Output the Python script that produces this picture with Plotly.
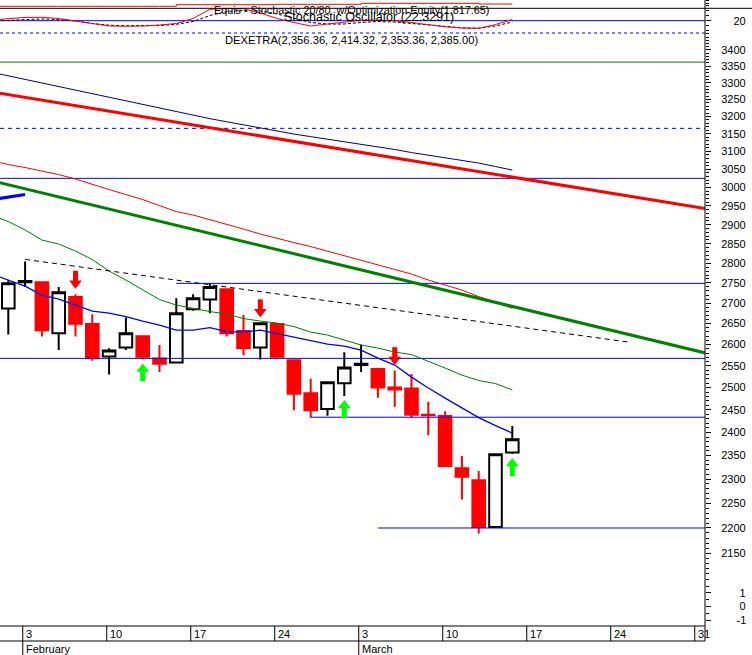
import numpy as np
import plotly.graph_objects as go

# ---------------- data ----------------
trade_dates = ["Jan 31", "Feb 3", "Feb 4", "Feb 5", "Feb 6", "Feb 7", "Feb 10", "Feb 11",
               "Feb 12", "Feb 13", "Feb 14", "Feb 17", "Feb 18", "Feb 19", "Feb 20", "Feb 21",
               "Feb 24", "Feb 25", "Feb 26", "Feb 27", "Feb 28", "Mar 3", "Mar 4", "Mar 5",
               "Mar 6", "Mar 7", "Mar 10", "Mar 11", "Mar 12", "Mar 13", "Mar 14"]
candle_idx = list(range(len(trade_dates)))

opens = [2687, 2752, 2752, 2627, 2715, 2649, 2572, 2593, 2620, 2567, 2558, 2685, 2709, 2734, 2632, 2593,
         2649, 2563, 2487, 2452, 2510, 2552, 2543, 2500, 2498, 2439, 2436, 2323, 2298, 2202, 2356.36]
highs = [2757, 2804, 2753, 2740, 2722, 2673, 2591, 2665, 2621, 2599, 2712, 2722, 2750, 2736, 2671, 2652,
         2651, 2565, 2520, 2513, 2582, 2600, 2544, 2539, 2531, 2468, 2447, 2349, 2317, 2354, 2414.32]
lows = [2624, 2740, 2619, 2587, 2619, 2562, 2530, 2587, 2565, 2536, 2557, 2681, 2675, 2619, 2575, 2565,
        2570, 2449, 2433, 2437, 2481, 2536, 2477, 2457, 2433, 2394, 2327, 2258, 2189, 2201, 2353.36]
closes = [2749, 2755, 2634, 2727, 2650, 2568, 2586, 2627, 2571, 2555, 2675, 2712, 2740, 2627, 2592, 2651,
          2571, 2486, 2449, 2512, 2546, 2555, 2500, 2496, 2439, 2438, 2328, 2305, 2202, 2353, 2385.00]

# indicator lines (index -1 .. 30)
ind_idx = list(range(-1, 31))
ma_fast = [2772.4, 2757.3, 2742.2, 2719.9, 2710.0, 2695.2, 2680.5, 2675.6, 2667.1, 2656.2, 2646.5,
           2634.5, 2634.5, 2640.5, 2630.9, 2629.7, 2634.5, 2626.1, 2617.8, 2608.3, 2601.2, 2596.5,
           2587.0, 2568.2, 2551.9, 2524.1, 2499.0, 2476.3, 2453.9, 2432.7, 2415.1, 2398.6]
ma_mid = [2925.5, 2908.2, 2886.0, 2859.6, 2849.2, 2831.1, 2809.2, 2780.0, 2757.3, 2732.3, 2708.7,
          2695.2, 2686.6, 2679.3, 2673.2, 2662.3, 2656.2, 2651.4, 2642.9, 2629.7, 2622.6, 2610.7,
          2598.8, 2591.7, 2582.3, 2576.4, 2561.2, 2544.9, 2528.7, 2516.1, 2509.3, 2494.7]
ma_slow = [3074.3, 3063.1, 3054.8, 3045.0, 3035.3, 3023.0, 3007.8, 2994.2, 2980.6, 2967.0, 2950.8,
           2934.8, 2925.5, 2913.5, 2901.6, 2888.4, 2875.3, 2863.5, 2853.1, 2842.7, 2831.1, 2819.5,
           2808.0, 2796.5, 2783.8, 2772.4, 2757.3, 2744.7, 2732.3, 2716.1, 2702.6, 2687.1]
ma_long = [3331.7, 3320.8, 3310.0, 3299.4, 3288.6, 3277.9, 3267.1, 3256.4, 3245.8, 3235.2, 3224.6,
           3214.3, 3203.8, 3193.9, 3184.9, 3175.6, 3166.7, 3157.4, 3149.4, 3142.0, 3134.8, 3127.7,
           3120.6, 3113.5, 3105.5, 3096.8, 3089.7, 3082.4, 3075.4, 3067.3, 3057.5, 3047.8]

# trend lines (two end points each)
red_trend_x, red_trend_y = [-1, 42], [3272.5, 2938.8]
green_trend_x, green_trend_y = [-1, 42], [3018.4, 2575.3]
blue_seg_x, blue_seg_y = [-1, 1], [2966.6, 2981.0]
dash_trend_x, dash_trend_y = [1, 37], [2809.7, 2605.4]

# horizontal levels
level_prices = [3362.8, 3165.8, 3024.9, 2749.0, 2567.5, 2433.5, 2200.0]
level_starts = [-1, -1, -1, 10, -1, 18, 22]
level_colors = ["#008000", "#0000FF", "#0000FF", "#0000FF", "#0000FF", "#0000FF", "#0000FF"]
level_dashes = ["solid", "4px,4px", "solid", "solid", "solid", "solid", "solid"]

# signal arrows
sell_idx = [4, 15, 23]
buy_idx = [8, 20, 30]

# stochastic panel (index -1 .. 30)
stoch_k = [20.4, 24.2, 26.4, 26.8, 24.4, 19.8, 14.2, 9.4, 9.0, 9.4, 11.4, 14.4, 24.4, 42.8, 44.4, 43.8,
           35.4, 24.4, 16.4, 9.4, 13.4, 17.4, 20.8, 21.0, 20.0, 16.4, 12.4, 7.8, 5.4, 4.8, 12.4, 22.3]
stoch_d = [19.4, 21.0, 23.0, 23.4, 22.4, 19.4, 14.4, 11.0, 9.8, 9.4, 10.4, 12.8, 18.4, 30.4, 38.4, 40.4,
           39.4, 33.4, 25.4, 16.4, 13.4, 13.4, 16.4, 18.4, 17.4, 14.4, 11.4, 8.4, 5.8, 5.0, 9.4, 17.4]
equity = [48.8, 48.8, 48.8, 48.8, 48.8, 48.8, 48.8, 48.8, 48.8, 48.8, 48.8, 52.0, 52.0, 52.0, 52.0, 52.0,
          52.0, 52.8, 52.8, 52.8, 52.8, 52.8, 54.8, 54.8, 54.8, 54.8, 54.8, 54.8, 54.8, 53.4, 53.4, 53.4]
stoch_level = 20

# x axis labels
monday_idx = [1, 6, 11, 16, 21, 26, 31, 36, 41]
monday_lbl = ["3", "10", "17", "24", "3", "10", "17", "24", "31"]
month_idx = [1, 21]
month_lbl = ["February", "March"]
price_ticks = list(range(2150, 3401, 50))

# ---------------- geometry helpers ----------------
PLOT_W, PLOT_H = 705, 626
def fx(px):
    return px / PLOT_W
def fy(py):
    return 1 - py / PLOT_H

FONT = "Liberation Sans, Arial, sans-serif"
X0, X1 = -0.494, 41.47
TICK_OFF = -0.14
Y_LO, Y_HI = 2107.8, 3453.0
P_TOP, P_BOT = 33, 575
ln_per_px = (np.log(Y_HI) - np.log(Y_LO)) / (P_BOT - P_TOP)
def shift(price, px_up):
    return price * np.exp(px_up * ln_per_px)

S_TOP, S_BOT = 0, 33
S_LO, S_HI = -4.6, 61.4
B_LO, B_HI = -1.44, 2.31

fig = go.Figure()

def line(x, y, color, width, dash="solid", shape="linear"):
    fig.add_trace(go.Scatter(x=x, y=y, mode="lines", line=dict(color=color, width=width, dash=dash, shape=shape),
                             xaxis="x", yaxis="y2", hoverinfo="skip", showlegend=False))

for p, s, c, d in zip(level_prices, level_starts, level_colors, level_dashes):
    line([max(s, X0), X1], [p, p], c, 1, d)

line(ind_idx, ma_long, "#000080", 1)
line(red_trend_x, red_trend_y, "#FF0000", 3)
line(ind_idx, ma_slow, "#FF0000", 1)
line(green_trend_x, green_trend_y, "#008000", 3)
line(ind_idx, ma_mid, "#008000", 1)
line(blue_seg_x, blue_seg_y, "#0000FF", 3)
line(dash_trend_x, dash_trend_y, "#000000", 1, "5px,4px")
line(ind_idx, ma_fast, "#0000FF", 1.3)

fig.add_trace(go.Candlestick(
    x=candle_idx, open=opens, high=highs, low=lows, close=closes,
    increasing=dict(line=dict(color="#000000", width=2), fillcolor="#FFFFFF"),
    decreasing=dict(line=dict(color="#FF0000", width=2), fillcolor="#FF0000"),
    whiskerwidth=0, xaxis="x", yaxis="y2", showlegend=False, hoverinfo="skip"))

# arrows
HEAD = 11
fig.add_trace(go.Scatter(x=sell_idx, y=[shift(highs[i], 17.5) for i in sell_idx], mode="markers",
                         marker=dict(symbol="line-ns", size=8.5, line=dict(color="#FF0000", width=5)),
                         xaxis="x", yaxis="y2", showlegend=False, hoverinfo="skip"))
fig.add_trace(go.Scatter(x=sell_idx, y=[shift(highs[i], 5.5 + HEAD / 2) for i in sell_idx], mode="markers",
                         marker=dict(symbol="triangle-down", size=HEAD, color="#FF0000", line=dict(width=0)),
                         xaxis="x", yaxis="y2", showlegend=False, hoverinfo="skip"))
fig.add_trace(go.Scatter(x=buy_idx, y=[shift(lows[i], -16.0) for i in buy_idx], mode="markers",
                         marker=dict(symbol="line-ns", size=8.5, line=dict(color="#00FF00", width=5)),
                         xaxis="x", yaxis="y2", showlegend=False, hoverinfo="skip"))
fig.add_trace(go.Scatter(x=buy_idx, y=[shift(lows[i], -(4 + HEAD / 2)) for i in buy_idx], mode="markers",
                         marker=dict(symbol="triangle-up", size=HEAD, color="#00FF00", line=dict(width=0)),
                         xaxis="x", yaxis="y2", showlegend=False, hoverinfo="skip"))

# stochastic panel
fig.add_trace(go.Scatter(x=[X0, X1], y=[stoch_level, stoch_level], mode="lines", line=dict(color="#0000FF", width=1),
                         xaxis="x", yaxis="y", showlegend=False, hoverinfo="skip"))
fig.add_trace(go.Scatter(x=ind_idx, y=equity, mode="lines", line=dict(color="#FF0000", width=1, shape="hv"),
                         xaxis="x", yaxis="y", showlegend=False, hoverinfo="skip"))
fig.add_trace(go.Scatter(x=ind_idx, y=stoch_d, mode="lines", line=dict(color="#000000", width=1, dash="3px,2px"),
                         xaxis="x", yaxis="y", showlegend=False, hoverinfo="skip"))
fig.add_trace(go.Scatter(x=ind_idx, y=stoch_k, mode="lines", line=dict(color="#FF0000", width=1),
                         xaxis="x", yaxis="y", showlegend=False, hoverinfo="skip"))

# empty lower indicator panel (keeps its axis alive)
fig.add_trace(go.Scatter(x=[None], y=[None], mode="lines", xaxis="x", yaxis="y3",
                         showlegend=False, hoverinfo="skip"))

NB = "\u00a0"
tickfont = dict(family="Liberation Sans, Arial, sans-serif", size=11, color="black")
lblfont = dict(family=FONT, size=11, color="black")

annotations = []
for m, t in zip(monday_idx, monday_lbl):
    annotations.append(dict(x=m + TICK_OFF, y=fy(633.5), xref="x", yref="paper", text=t, showarrow=False,
                            xanchor="left", yanchor="middle", xshift=1, font=lblfont))
for m, t in zip(month_idx, month_lbl):
    annotations.append(dict(x=m + TICK_OFF, y=fy(648.5), xref="x", yref="paper", text=t, showarrow=False,
                            xanchor="left", yanchor="middle", xshift=1, font=lblfont))
annotations += [
    dict(x=fx(351.5), y=fy(10), xref="paper", yref="paper", showarrow=False, xanchor="center", yanchor="middle",
         text="Equis - Stochastic 20/80  w/Optimization Equity(1,817.65)", font=dict(family=FONT, size=10.8, color="black")),
    dict(x=fx(369), y=fy(17), xref="paper", yref="paper", showarrow=False, xanchor="center", yanchor="middle",
         text="Stochastic Oscillator (22.3291)", font=dict(family=FONT, size=12.5, color="black")),
    dict(x=fx(351.5), y=fy(40), xref="paper", yref="paper", showarrow=False, xanchor="center", yanchor="middle",
         text="DEXETRA(2,356.36, 2,414.32, 2,353.36, 2,385.00)", font=dict(family=FONT, size=11.2, color="black")),
]

shapes = [
    # panel separators and frame
    dict(type="line", xref="paper", yref="paper", x0=0, x1=752 / PLOT_W, y0=fy(8.3), y1=fy(8.3),
         line=dict(color="black", width=1)),
    dict(type="line", xref="paper", yref="paper", x0=0, x1=1, y0=fy(33), y1=fy(33),
         line=dict(color="#0000FF", width=1, dash="3px,3px")),
    dict(type="line", xref="paper", yref="paper", x0=1, x1=1, y0=fy(641), y1=1,
         line=dict(color="black", width=1)),
    dict(type="line", xref="paper", yref="paper", x0=0, x1=1, y0=fy(626), y1=fy(626),
         line=dict(color="black", width=1)),
    dict(type="line", xref="paper", yref="paper", x0=0, x1=1, y0=fy(641), y1=fy(641),
         line=dict(color="black", width=1)),
]
for m in monday_idx:
    shapes.append(dict(type="line", xref="x", yref="paper", x0=m + TICK_OFF, x1=m + TICK_OFF,
                       y0=fy(626), y1=fy(641), line=dict(color="black", width=1)))
for m in month_idx:
    shapes.append(dict(type="line", xref="x", yref="paper", x0=m + TICK_OFF, x1=m + TICK_OFF,
                       y0=fy(641), y1=fy(656), line=dict(color="black", width=1)))

fig.update_layout(
    width=752, height=655,
    margin=dict(l=0, r=752 - PLOT_W, t=0, b=655 - PLOT_H, autoexpand=False),
    paper_bgcolor="white", plot_bgcolor="white",
    showlegend=False, boxgap=0.25, boxgroupgap=0,
    xaxis=dict(range=[X0, X1], showgrid=False, zeroline=False, showline=False, ticks="",
               showticklabels=False, anchor="y3", rangeslider=dict(visible=False), fixedrange=True),
    yaxis=dict(domain=[fy(S_BOT), fy(S_TOP)], range=[S_LO, S_HI], side="right", anchor="x",
               showgrid=False, zeroline=False, showline=False, automargin=False,
               tickmode="array", tickvals=[stoch_level], ticktext=[NB * 4 + "20"],
               ticks="outside", ticklen=5, tickcolor="black", ticklabelstandoff=8, tickfont=tickfont,
               minor=dict(tickmode="array", tickvals=[0, 10, 30, 40, 50, 55, 60], ticklen=3, tickcolor="black"),
               fixedrange=True),
    yaxis2=dict(domain=[fy(P_BOT), fy(P_TOP)], type="log", range=[np.log10(Y_LO), np.log10(Y_HI)],
                side="right", anchor="x", showgrid=False, zeroline=False, showline=False, automargin=False,
                tickmode="array", tickvals=price_ticks, ticktext=[str(v) for v in price_ticks],
                ticks="outside", ticklen=5, tickcolor="black", ticklabelstandoff=8, tickfont=tickfont,
                minor=dict(tickmode="array", tickvals=list(range(2110, 3451, 10)), ticklen=3, tickcolor="black"),
                fixedrange=True),
    yaxis3=dict(domain=[0, fy(P_BOT)], range=[B_LO, B_HI], side="right", anchor="x",
                showgrid=False, zeroline=False, showline=False, automargin=False,
                tickmode="array", tickvals=[-1, 0, 1], ticktext=[NB * 5 + "-1", NB * 6 + "0", NB * 6 + "1"],
                ticks="outside", ticklen=5, tickcolor="black", ticklabelstandoff=8, tickfont=tickfont,
                minor=dict(tickmode="array", tickvals=[-0.5, 0.5, 1.5, 2.0], ticklen=3, tickcolor="black"),
                fixedrange=True),
    annotations=annotations,
    shapes=shapes,
)

fig.write_html("out.html", config={"displayModeBar": False},
               post_script="document.body.style.margin='0';document.body.style.overflow='hidden';")
